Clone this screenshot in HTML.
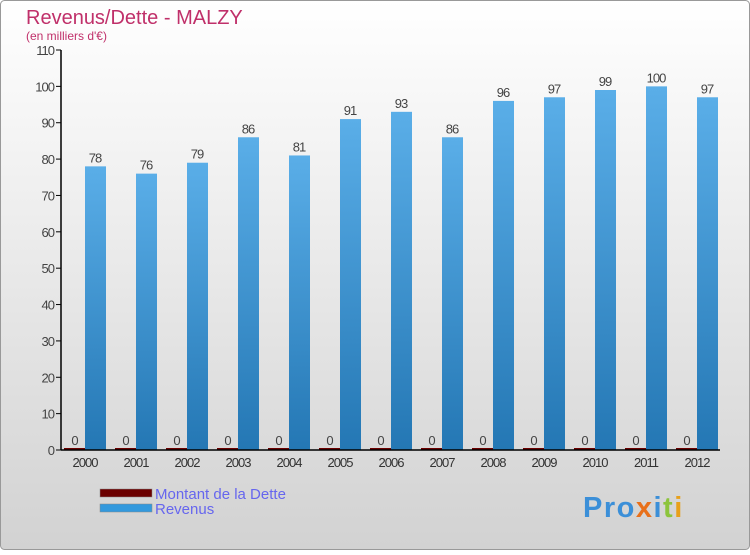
<!DOCTYPE html>
<html><head><meta charset="utf-8"><style>
body{margin:0;width:750px;height:550px;overflow:hidden;font-family:"Liberation Sans",sans-serif}
</style></head><body>
<svg width="750" height="550" xmlns="http://www.w3.org/2000/svg">
<defs>
<linearGradient id="bg" x1="0" y1="0" x2="0" y2="1"><stop offset="0" stop-color="#ffffff"/><stop offset="1" stop-color="#d2d2d2"/></linearGradient>
<linearGradient id="bar" x1="0" y1="0" x2="0" y2="1"><stop offset="0" stop-color="#5aaee8"/><stop offset="1" stop-color="#2477b4"/></linearGradient>
</defs>
<rect x="0.5" y="0.5" width="749" height="549" rx="4" fill="url(#bg)" stroke="#999"/>
<text x="26" y="24" font-size="20" fill="#c0306a">Revenus/Dette - MALZY</text>
<text x="26" y="40" font-size="12" fill="#c0306a">(en milliers d'€)</text>
<g id="plot"></g>
<line x1="61" y1="50" x2="61" y2="450" stroke="#000" stroke-width="1.5"/>
<line x1="61" y1="450" x2="720" y2="450" stroke="#000" stroke-width="1.5"/>
<rect x="100" y="489" width="52" height="8" fill="#6b0000" stroke="#888" stroke-width="0.5"/>
<text x="155" y="499" font-size="15" fill="#6666ee">Montant de la Dette</text>
<rect x="100" y="504" width="52" height="8" fill="#3399dd" stroke="#888" stroke-width="0.5"/>
<text x="155" y="514" font-size="15" fill="#6666ee">Revenus</text>
<text x="583" y="517" font-size="29" font-weight="bold" letter-spacing="1.5"><tspan fill="#3b8fd8">Pro</tspan><tspan fill="#e8701a">x</tspan><tspan fill="#3b8fd8">i</tspan><tspan fill="#8cc43c">t</tspan><tspan fill="#e8a01a">i</tspan></text>
</svg>
<script>
const years=["2000","2001","2002","2003","2004","2005","2006","2007","2008","2009","2010","2011","2012"];
const revenus=[78,76,79,86,81,91,93,86,96,97,99,100,97];
const dette=[0,0,0,0,0,0,0,0,0,0,0,0,0];
const yTicks=[0,10,20,30,40,50,60,70,80,90,100,110];
const NS="http://www.w3.org/2000/svg";
const g=document.getElementById('plot');
const y=v=>450-v*400/110;
const xc=i=>85+51*i;
function mk(t,a,txt){const e=document.createElementNS(NS,t);for(const k in a)e.setAttribute(k,a[k]);if(txt!==undefined)e.textContent=txt;g.appendChild(e);return e;}
yTicks.forEach(v=>{
 const l=mk('line',{x1:56,x2:61,y1:y(v),y2:y(v),stroke:'#000'});
 
 
 const t=mk('text',{x:54,y:y(v)+5,'font-size':13,fill:'#444','text-anchor':'end','letter-spacing':'-1'},v);
 
 
});
years.forEach((yr,i)=>{
 const c=xc(i);
 const d=mk('rect',{x:c-21,y:y(dette[i])-2,width:21,height:450-y(dette[i])+2,fill:'#6b0000'});
 
 
 const dl=mk('text',{x:c-10,y:y(dette[i])-5,'font-size':13,fill:'#444','text-anchor':'middle'},dette[i]);
 
 
 const r=mk('rect',{x:c,y:y(revenus[i]),width:21,height:450-y(revenus[i]),fill:'url(#bar)'});
 
 
 const rl=mk('text',{x:c+10,y:y(revenus[i])-4,'font-size':13,fill:'#444','text-anchor':'middle','letter-spacing':'-1'},revenus[i]);
 
 
 const xl=mk('text',{x:c,y:467,'font-size':13,fill:'#333','text-anchor':'middle','letter-spacing':'-1'},yr);
 
 
});
</script>
</body></html>
